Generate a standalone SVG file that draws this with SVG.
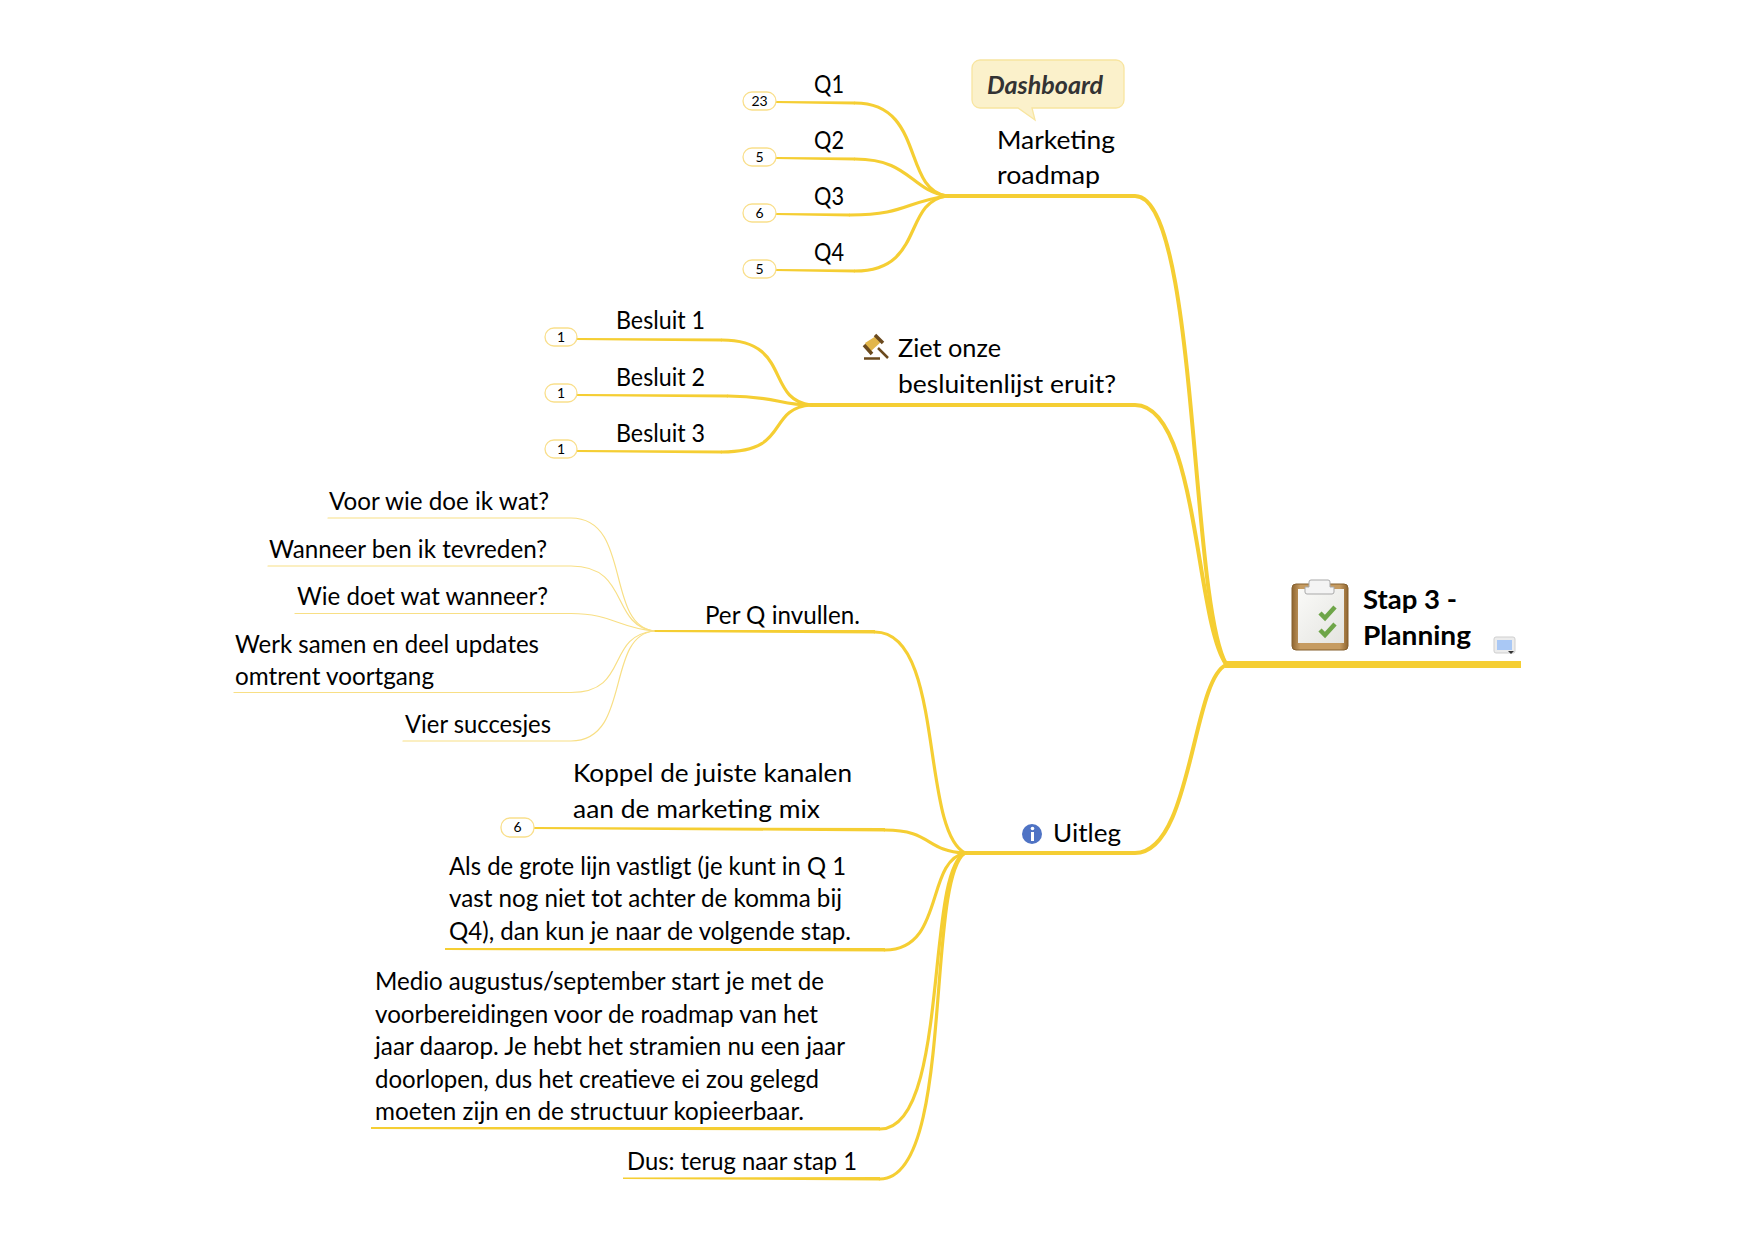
<svg xmlns="http://www.w3.org/2000/svg" width="1754" height="1240" viewBox="0 0 1754 1240">
<defs>
<linearGradient id="board" x1="0" y1="0" x2="1" y2="0"><stop offset="0" stop-color="#8F6530"/><stop offset="0.150" stop-color="#C69C62"/><stop offset="0.850" stop-color="#C69C62"/><stop offset="1" stop-color="#8F6530"/></linearGradient>
<linearGradient id="sheet" x1="0" y1="0" x2="1" y2="1"><stop offset="0" stop-color="#FAFAF8"/><stop offset="1" stop-color="#E4E4E0"/></linearGradient>
</defs>
<style>
text{font-family:Lato,"Liberation Sans",sans-serif;font-size:25px;fill:#000}
.b{font-weight:700;font-size:27px}
.n{font-size:14px;text-anchor:middle}
.c{fill:none;stroke:#F5CE33;stroke-linecap:round}
.t{fill:#F5CE33}
.w1{stroke-width:1.2;stroke:#F8DF85}
.w3{stroke-width:3.200}
.w4{stroke-width:4}
.pill{fill:#fff;stroke:#F9DF8C;stroke-width:1.3}
</style>
<rect width="1754" height="1240" fill="#fff"/>
<g id="connectors">
<rect class="t" x="1225" y="661" width="296" height="7"/>
<path class="c w4" d="M947,196H1135C1198,196 1190,600 1226,664"/>
<path class="c w4" d="M811,405H1135C1198,405 1195,620 1226,664"/>
<path class="c w4" d="M965,853H1135C1192,853 1192,680 1226,665"/>
<path class="c w3" d="M875,632C945,632 920,830 965,853"/>
<polygon class="t" points="654,630 875,630 875,633.500 654,632"/>
<path class="c w3" d="M855,103C925,103 902,190 947,196"/>
<path class="c w3" d="M855,159C910,159 910,190 947,196"/>
<path class="c w3" d="M850,215C905,215 905,202 947,196"/>
<path class="c w3" d="M855,271C925,271 902,202 947,196"/>
<polygon class="t" points="776,101 855,101.500 855,104.500 776,103"/>
<polygon class="t" points="776,157 855,157.500 855,160.500 776,159"/>
<polygon class="t" points="776,213 850,213.500 850,216.500 776,215"/>
<polygon class="t" points="776,269 855,269.500 855,272.500 776,271"/>
<path class="c w3" d="M722,340C792,340 765,400 811,405"/>
<path class="c w3" d="M728,396C775,396 780,405 811,405"/>
<path class="c w3" d="M722,452C792,452 765,409 811,405"/>
<polygon class="t" points="577,338 722,338.500 722,341.500 577,340"/>
<polygon class="t" points="577,394 728,394.500 728,397.500 577,396"/>
<polygon class="t" points="577,450 722,450.500 722,453.500 577,452"/>
<path class="c w1" d="M328,518H571C632,518 605,625 654,631"/>
<path class="c w1" d="M268,566H571C630,566 610,625 654,631"/>
<path class="c w1" d="M295,613.500H571C612,613.500 618,628 654,631"/>
<path class="c w1" d="M234,692.500H571C630,692.500 605,636 654,631"/>
<path class="c w1" d="M403,741H571C632,741 605,636 654,631"/>
<path class="c w3" d="M885,830C932,830 925,851 965,853"/>
<polygon class="t" points="534,827 885,828 885,831.500 534,829"/>
<path class="c w3" d="M885,950C945,950 925,861 965,853"/>
<polygon class="t" points="445,948 885,948 885,951.500 445,950"/>
<path class="c w3" d="M880,1129C950,1129 925,871 965,853"/>
<polygon class="t" points="371,1127 880,1127 880,1130.500 371,1129"/>
<path class="c w3" d="M880,1179C955,1179 925,881 965,853"/>
<polygon class="t" points="623,1177.500 880,1177 880,1180.500 623,1179"/>
</g>
<g id="root">
<rect x="1292" y="584" width="56" height="66" rx="4" fill="url(#board)" stroke="#85602F" stroke-width="1"/>
<rect x="1298" y="589" width="46" height="54" fill="url(#sheet)"/>
<path d="M1305,587h4v-5a2,2 0 0 1 2,-2h17a2,2 0 0 1 2,2v5h4v5a2,2 0 0 1 -2,2h-25a2,2 0 0 1 -2,-2z" fill="#F4F4F4" stroke="#A9A9A9"/>
<path d="M1320,613l5,5l10,-11M1320,630l5,5l10,-11" fill="none" stroke="#6EA548" stroke-width="4.500"/>
<text class="b" x="1363" y="609" textLength="94" lengthAdjust="spacingAndGlyphs">Stap 3 -</text>
<text class="b" x="1363" y="645" textLength="108" lengthAdjust="spacingAndGlyphs">Planning</text>
<rect x="1494" y="637" width="21" height="16" rx="2" fill="#ECECEC" stroke="#CFCFCF"/>
<rect x="1497" y="640" width="15" height="10" fill="#A9C8F5"/>
<path d="M1508,651h6l-3,3z" fill="#333"/>
</g>
<g id="marketing">
<path d="M980,60H1116a8,8 0 0 1 8,8V100a8,8 0 0 1 -8,8H1032L1035,120L1018,108H980a8,8 0 0 1 -8,-8V68a8,8 0 0 1 8,-8Z" fill="#FBF1CB" stroke="#F8E5A0" stroke-width="1.300"/>
<text x="987" y="94" font-weight="700" font-style="italic" style="fill:#333" textLength="116" lengthAdjust="spacingAndGlyphs">Dashboard</text>
<text x="997" y="149" textLength="118" lengthAdjust="spacingAndGlyphs">Marketing</text>
<text x="997" y="184" textLength="103" lengthAdjust="spacingAndGlyphs">roadmap</text>
</g>
<g id="q1"><rect class="pill" x="743" y="92" width="33" height="18" rx="9"/><text class="n" x="759.500" y="106">23</text><text x="814" y="93" textLength="30" lengthAdjust="spacingAndGlyphs">Q1</text></g>
<g id="q2"><rect class="pill" x="743" y="148" width="33" height="18" rx="9"/><text class="n" x="759.500" y="162">5</text><text x="814" y="149" textLength="30" lengthAdjust="spacingAndGlyphs">Q2</text></g>
<g id="q3"><rect class="pill" x="743" y="204" width="33" height="18" rx="9"/><text class="n" x="759.500" y="218">6</text><text x="814" y="205" textLength="30" lengthAdjust="spacingAndGlyphs">Q3</text></g>
<g id="q4"><rect class="pill" x="743" y="260" width="33" height="18" rx="9"/><text class="n" x="759.500" y="274">5</text><text x="814" y="261" textLength="30" lengthAdjust="spacingAndGlyphs">Q4</text></g>
<g id="besluiten">
<polygon points="865,343 876,336 881,342 870,352" fill="#E2B64A"/>
<path d="M875,335l8,8M864,345l8,9" stroke="#6B4A1E" stroke-width="3.500" fill="none"/>
<path d="M878,348l10,10" stroke="#6B4A1E" stroke-width="2.500" fill="none"/>
<path d="M864,358.500h16" stroke="#6B4A1E" stroke-width="2.500" fill="none"/>
<text x="898" y="357" textLength="103" lengthAdjust="spacingAndGlyphs">Ziet onze</text>
<text x="898" y="393" textLength="218" lengthAdjust="spacingAndGlyphs">besluitenlijst eruit?</text>
</g>
<g id="b1"><rect class="pill" x="545" y="328" width="32" height="18" rx="9"/><text class="n" x="561" y="342">1</text><text x="616" y="329" textLength="89" lengthAdjust="spacingAndGlyphs">Besluit 1</text></g>
<g id="b2"><rect class="pill" x="545" y="384" width="32" height="18" rx="9"/><text class="n" x="561" y="398">1</text><text x="616" y="386" textLength="89" lengthAdjust="spacingAndGlyphs">Besluit 2</text></g>
<g id="b3"><rect class="pill" x="545" y="440" width="32" height="18" rx="9"/><text class="n" x="561" y="454">1</text><text x="616" y="442" textLength="89" lengthAdjust="spacingAndGlyphs">Besluit 3</text></g>
<g id="perq"><text x="705" y="624" textLength="155" lengthAdjust="spacingAndGlyphs">Per Q invullen.</text></g>
<g id="p1"><text x="329" y="510" textLength="220" lengthAdjust="spacingAndGlyphs">Voor wie doe ik wat?</text></g>
<g id="p2"><text x="269" y="558" textLength="278" lengthAdjust="spacingAndGlyphs">Wanneer ben ik tevreden?</text></g>
<g id="p3"><text x="297" y="605" textLength="251" lengthAdjust="spacingAndGlyphs">Wie doet wat wanneer?</text></g>
<g id="p4"><text x="235" y="653" textLength="304" lengthAdjust="spacingAndGlyphs">Werk samen en deel updates</text><text x="235" y="685" textLength="199" lengthAdjust="spacingAndGlyphs">omtrent voortgang</text></g>
<g id="p5"><text x="405" y="733" textLength="146" lengthAdjust="spacingAndGlyphs">Vier succesjes</text></g>
<g id="uitleg">
<circle cx="1032" cy="834" r="10" fill="#4F73C4"/>
<circle cx="1032.500" cy="828.500" r="1.800" fill="#fff"/>
<rect x="1031" y="832" width="3" height="9" fill="#fff"/>
<text x="1053" y="842" textLength="68" lengthAdjust="spacingAndGlyphs">Uitleg</text>
</g>
<g id="u1"><rect class="pill" x="501" y="818" width="33" height="19" rx="9"/><text class="n" x="517.500" y="832">6</text><text x="573" y="782" textLength="279" lengthAdjust="spacingAndGlyphs">Koppel de juiste kanalen</text><text x="573" y="818" textLength="247" lengthAdjust="spacingAndGlyphs">aan de marketing mix</text></g>
<g id="u2"><text x="449" y="875" textLength="397" lengthAdjust="spacingAndGlyphs">Als de grote lijn vastligt (je kunt in Q 1</text><text x="449" y="907" textLength="393" lengthAdjust="spacingAndGlyphs">vast nog niet tot achter de komma bij</text><text x="449" y="940" textLength="402" lengthAdjust="spacingAndGlyphs">Q4), dan kun je naar de volgende stap.</text></g>
<g id="u3"><text x="375" y="990" textLength="449" lengthAdjust="spacingAndGlyphs">Medio augustus/september start je met de</text><text x="375" y="1023" textLength="443" lengthAdjust="spacingAndGlyphs">voorbereidingen voor de roadmap van het</text><text x="375" y="1055" textLength="470" lengthAdjust="spacingAndGlyphs">jaar daarop. Je hebt het stramien nu een jaar</text><text x="375" y="1088" textLength="444" lengthAdjust="spacingAndGlyphs">doorlopen, dus het creatieve ei zou gelegd</text><text x="375" y="1120" textLength="429" lengthAdjust="spacingAndGlyphs">moeten zijn en de structuur kopieerbaar.</text></g>
<g id="u4"><text x="627" y="1170" textLength="230" lengthAdjust="spacingAndGlyphs">Dus: terug naar stap 1</text></g>
</svg>
